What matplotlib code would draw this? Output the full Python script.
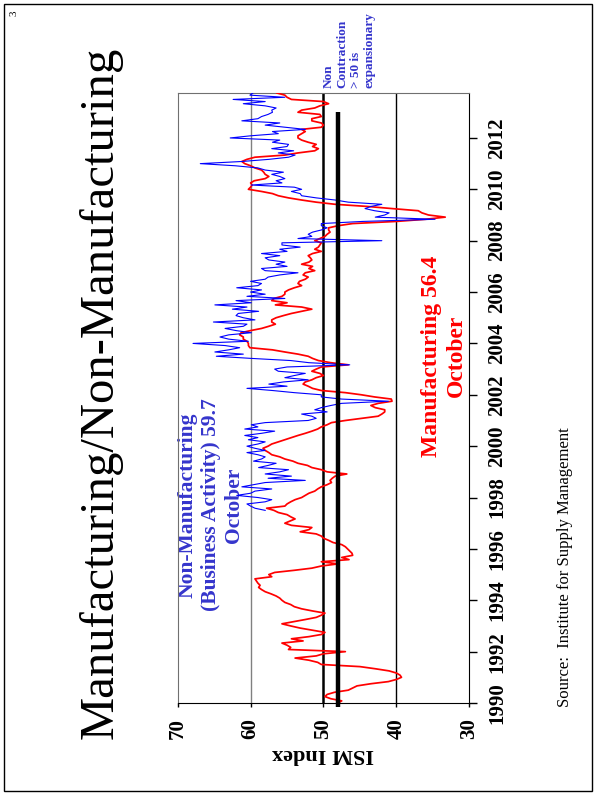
import matplotlib.pyplot as plt
import numpy as np
from matplotlib.patches import Rectangle

# ISM Manufacturing PMI, monthly Jan 1990 - Oct 2013
manufacturing = [
    48.0, 47.5, 49.0, 49.8, 49.5, 48.5, 46.6, 46.0, 45.4, 43.5, 41.1, 40.0,   # 1990
    39.3, 39.5, 40.0, 41.0, 42.9, 45.0, 50.3, 50.8, 52.0, 53.9, 51.0, 50.0,   # 1991
    47.0, 54.8, 54.5, 55.0, 55.7, 52.8, 54.4, 52.0, 50.3, 49.8, 51.5, 53.2,   # 1992
    54.5, 55.7, 54.1, 52.5, 51.0, 50.3, 49.8, 51.5, 53.0, 54.0, 54.5, 55.3,   # 1993
    55.7, 56.0, 56.5, 57.2, 58.0, 58.5, 58.9, 58.7, 59.0, 59.2, 59.4, 57.1,   # 1994
    57.5, 56.7, 54.0, 51.6, 50.3, 48.0, 50.3, 46.5, 47.5, 46.0, 46.1, 46.4,   # 1995
    46.7, 47.0, 47.5, 48.7, 49.3, 50.0, 50.3, 51.0, 53.2, 52.0, 51.6, 54.4,   # 1996
    55.3, 54.6, 53.9, 54.5, 55.0, 56.2, 56.8, 57.8, 55.3, 55.0, 54.5, 53.9,   # 1997
    53.0, 52.5, 52.0, 51.2, 50.8, 50.3, 49.5, 48.9, 49.1, 48.8, 48.4, 46.8,   # 1998
    49.5, 50.3, 51.6, 52.2, 53.5, 54.2, 55.3, 56.0, 57.1, 57.5, 58.0, 58.3,   # 1999
    57.6, 57.1, 56.2, 55.3, 54.4, 53.5, 52.5, 51.6, 50.8, 50.3, 49.5, 48.9,   # 2000
    47.0, 44.8, 42.5, 42.0, 41.6, 41.6, 42.9, 43.5, 42.5, 40.6, 40.7, 43.0,   # 2001
    44.8, 47.0, 50.3, 51.5, 52.1, 52.8, 52.5, 51.6, 51.0, 50.0, 50.5, 51.6,   # 2002
    51.0, 50.3, 46.6, 49.0, 50.7, 51.5, 52.1, 53.5, 55.3, 57.0, 60.1, 60.3,   # 2003
    60.3, 60.5, 61.0, 61.0, 61.5, 61.3, 60.0, 58.5, 57.5, 56.6, 57.1, 57.1,   # 2004
    56.5, 55.5, 54.4, 53.0, 51.6, 53.0, 56.6, 55.0, 57.1, 56.8, 55.7, 55.3,   # 2005
    55.3, 54.8, 54.0, 53.0, 53.5, 53.3, 52.5, 52.1, 52.8, 52.5, 51.2, 52.0,   # 2006
    51.5, 53.0, 52.0, 51.6, 51.8, 52.1, 51.5, 50.3, 51.2, 50.7, 50.5, 50.3,   # 2007
    51.2, 50.5, 49.8, 49.5, 49.1, 49.3, 49.3, 48.0, 46.0, 40.0, 36.0, 33.3,   # 2008
    35.6, 36.5, 37.0, 40.6, 44.0, 48.4, 51.0, 53.0, 54.8, 56.2, 57.0, 58.5,   # 2009
    60.3, 60.0, 59.8, 60.0, 59.5, 58.0, 57.5, 58.0, 58.2, 58.5, 59.4, 60.0,   # 2010
    60.8, 61.2, 60.5, 59.4, 55.3, 53.5, 51.2, 50.7, 51.5, 51.0, 52.1, 53.0,   # 2011
    53.5, 53.5, 53.0, 52.5, 53.0, 50.3, 50.0, 50.3, 51.6, 51.6, 50.3, 50.5,   # 2012
    53.5, 53.0, 51.2, 50.5, 49.3, 50.0, 54.4, 55.0, 55.3, 56.4,               # 2013
]

# ISM Non-Manufacturing Business Activity, monthly Jul 1997 - Oct 2013
non_manufacturing = [
    58.0, 59.4, 60.0, 60.5, 58.0, 57.1,                                       # 1997
    59.0, 61.9, 60.0, 59.4, 57.1, 61.2, 59.6, 58.0, 52.5, 57.6, 54.4, 58.0,   # 1998
    56.0, 54.8, 58.9, 57.6, 56.5, 59.6, 58.5, 58.0, 59.0, 60.5, 58.0, 59.4,   # 1999
    60.5, 59.0, 58.0, 60.3, 59.0, 60.8, 58.5, 56.7, 60.8, 59.0, 59.9, 58.0,   # 2000
    52.1, 51.0, 51.6, 53.0, 49.5, 51.2, 50.3, 49.0, 47.5, 41.1, 47.5, 50.3,   # 2001
    50.3, 54.0, 57.0, 60.5, 55.0, 57.5, 55.5, 52.1, 55.3, 54.0, 52.5, 56.2,   # 2002
    56.7, 55.0, 46.4, 52.0, 54.5, 59.9, 64.7, 61.0, 64.9, 63.0, 61.5, 63.5,   # 2003
    67.9, 60.3, 63.0, 64.2, 63.0, 59.9, 62.0, 63.5, 61.0, 60.5, 65.1, 59.4,   # 2004
    61.0, 62.0, 61.7, 58.9, 62.5, 60.5, 64.9, 59.9, 62.0, 55.3, 60.5, 58.0,   # 2005
    60.0, 58.5, 61.9, 59.0, 58.5, 60.0, 58.0, 57.6, 56.0, 53.5, 58.0, 58.5,   # 2006
    55.0, 56.5, 55.3, 57.5, 58.0, 56.0, 58.5, 55.0, 56.0, 53.2, 55.7, 55.7,   # 2007
    42.0, 53.5, 51.6, 52.1, 51.5, 50.3, 49.5, 50.3, 50.3, 44.6, 34.7, 42.9,   # 2008
    41.6, 41.0, 43.0, 44.3, 43.5, 42.0, 46.6, 48.4, 51.0, 53.0, 53.2, 54.4,   # 2009
    53.0, 54.0, 59.9, 55.7, 56.5, 55.3, 56.0, 57.1, 55.5, 58.0, 59.0, 62.1,   # 2010
    66.9, 61.2, 57.5, 54.8, 53.9, 56.2, 54.1, 57.1, 55.0, 54.8, 57.0, 56.0,   # 2011
    62.8, 60.0, 56.2, 57.0, 52.5, 55.3, 58.0, 56.0, 61.2, 59.0, 58.5, 57.6,   # 2012
    57.0, 57.1, 56.5, 58.0, 61.0, 58.0, 62.4, 55.3, 60.1, 59.7,               # 2013
]

start_mfg = 1990.0            # Jan 1990
start_nonmfg = 1997.5         # Jul 1997
last_month = 2013.75          # Oct 2013
threshold = 48                # thick reference line
threshold_end = 2013.0
year_ticks = list(range(1990, 2013, 2))
ism_ticks = [70, 60, 50, 40, 30]

W, H = 597, 797
SERIF = 'Liberation Serif'
NM_BLUE = '#3535CC'


def fx(x):
    return x / W


def fy(y):
    return 1 - y / H


t_mfg = start_mfg + np.arange(len(manufacturing)) / 12
t_non = start_nonmfg + np.arange(len(non_manufacturing)) / 12

fig = plt.figure(figsize=(W / 100, H / 100), dpi=100)
fig.patches.append(Rectangle((fx(4), fy(791)), fx(588), 787 / H, transform=fig.transFigure,
                             fill=False, edgecolor='black', lw=1))

# the chart is laid out turned on its side: ISM value across, time going up
ax = fig.add_axes([fx(177.7), fy(703), fx(469.3 - 177.7), (703 - 93) / H])
ax.plot(manufacturing, t_mfg, color='red', lw=1.25, zorder=3)
ax.plot(non_manufacturing, t_non, color='blue', lw=0.8, zorder=4)
ax.axvline(60, color='#808080', lw=1, zorder=1)
ax.axvline(50, color='black', lw=1.8, zorder=2)
ax.axvline(40, color='black', lw=1, zorder=1)
ax.plot([threshold, threshold], [start_mfg - 0.15, threshold_end], color='black', lw=3.2,
        solid_capstyle='butt', clip_on=False, zorder=5)

ax.set_xlim(70, 30)
ax.set_ylim(start_mfg, last_month)
ax.set_xticks(ism_ticks)
ax.set_xticklabels([str(v) for v in ism_ticks], rotation=90, fontsize=15,
                   fontweight='bold', family=SERIF)
ax.yaxis.tick_right()
ax.set_yticks(year_ticks)
ax.set_yticklabels([str(y) for y in year_ticks], rotation=90, fontsize=15,
                   fontweight='bold', family=SERIF, va='center')
ax.tick_params(axis='x', direction='out', length=3, width=1, pad=8)
ax.tick_params(axis='y', direction='out', length=6, width=1, pad=7)
for side in ['left', 'top']:
    ax.spines[side].set_color('#707070')
for side in ['right', 'bottom']:
    ax.spines[side].set_color('black')

# labels in the plot (under the lines)
ax.text(fx(211), fy(505), 'Non-Manufacturing\n(Business Activity) 59.7\nOctober',
        transform=fig.transFigure, rotation=90, ha='center', va='center',
        multialignment='center', color=NM_BLUE, fontsize=15.5, fontweight='bold',
        family=SERIF, zorder=0)
ax.text(fx(444), fy(356), 'Manufacturing 56.4\nOctober', transform=fig.transFigure,
        rotation=90, ha='center', va='center', multialignment='center', color='red',
        fontsize=17, fontweight='bold', family=SERIF, zorder=0)

fig.text(fx(349), fy(88), 'Non\nContraction\n> 50 is\nexpansionary', rotation=90,
         ha='center', va='bottom', multialignment='left', color=NM_BLUE, fontsize=9.5,
         fontweight='bold', family=SERIF, linespacing=1.15)

fig.text(fx(101), fy(393), 'Manufacturing/Non-Manufacturing', rotation=90,
         ha='center', va='center', fontsize=35, family=SERIF)
fig.text(fx(323.5), fy(754), 'ISM Index', rotation=180, ha='center', va='center',
         fontsize=16, fontweight='bold', family=SERIF)
fig.text(fx(565), fy(567), 'Source:  Institute for Supply Management', rotation=90,
         ha='center', va='center', fontsize=12, family=SERIF)
fig.text(fx(14), fy(13), '3', rotation=90, ha='center', va='center', fontsize=8,
         family=SERIF)

fig.savefig('out.png', dpi=100)
